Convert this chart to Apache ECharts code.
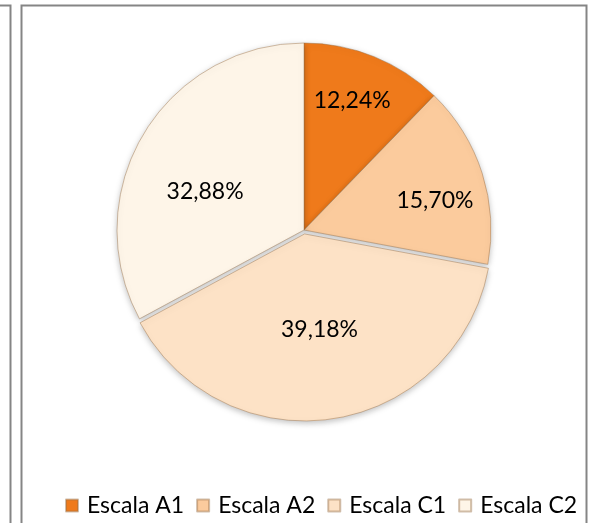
<!DOCTYPE html>
<html>
<head>
<meta charset="utf-8">
<script src="https://cdn.jsdelivr.net/npm/echarts@6/dist/echarts.min.js"></script>
<style>
  html, body { margin: 0; padding: 0; background: #fff; }
  #chart { width: 601px; height: 523px; }
</style>
</head>
<body>
<div id="chart"></div>
<script>
// dados do gráfico
const categorias = ['Escala A1', 'Escala A2', 'Escala C1', 'Escala C2'];
const percentuais = [12.24, 15.70, 39.18, 32.88];

const cores = ['#EF7A1B', '#FBCB9D', '#FDE2C6', '#FEF5E8'];
// pequeno ajuste da posição dos rótulos (como no Excel)
const deslocRotulo = [[12, -40], [39, 0], [0, 3], [-16, 11]];

const chart = echarts.init(document.getElementById('chart'));

const option = {
    animation: false,
    graphic: [
        {type: 'rect', shape: {x: 21.5, y: 5.5, width: 565, height: 600},
         style: {fill: 'none', stroke: '#858585', lineWidth: 2}, z: 0},
        {type: 'rect', shape: {x: -100, y: 5.5, width: 110.5, height: 600},
         style: {fill: 'none', stroke: '#858585', lineWidth: 2}, z: 0}
    ],
    legend: {
        left: 60,
        top: 489,
        itemWidth: 12,
        itemHeight: 12,
        itemGap: 12,
        icon: 'rect',
        textStyle: {
            fontFamily: 'Lato',
            fontSize: 23,
            color: '#000',
            padding: [0, 0, 0, 4]
        },
        data: categorias
    },
    series: [{
        type: 'pie',
        center: [304, 230],
        radius: 187,
        startAngle: 90,
        clockwise: true,
        selectedMode: 'single',
        selectedOffset: 4,
        avoidLabelOverlap: false,
        itemStyle: {
            borderColor: 'rgba(150,110,70,0.45)',
            borderWidth: 1,
            shadowBlur: 6,
            shadowOffsetY: 2,
            shadowColor: 'rgba(0,0,0,0.25)'
        },
        label: {
            show: true,
            position: 'inside',
            fontFamily: 'Lato',
            fontSize: 23,
            color: '#000',
            formatter: p => p.value.toFixed(2).replace('.', ',') + '%'
        },
        labelLine: {show: false},
        data: categorias.map((nome, i) => ({
            name: nome,
            value: percentuais[i],
            selected: i === 2,
            itemStyle: {color: cores[i]},
            label: {offset: deslocRotulo[i]}
        }))
    }]
};

chart.setOption(option);
</script>
</body>
</html>
